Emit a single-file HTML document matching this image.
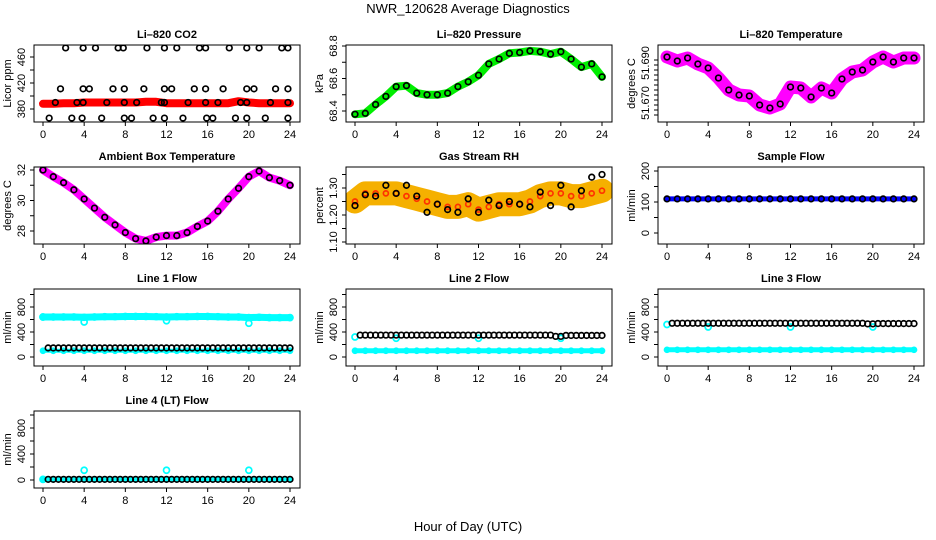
<!DOCTYPE html>
<html><head><meta charset="utf-8">
<style>
html,body{margin:0;padding:0;background:#fff;}
svg{display:block;font-family:"Liberation Sans",Arial,sans-serif;}
</style></head>
<body>
<svg id="chart" width="936" height="540" viewBox="0 0 936 540" xmlns="http://www.w3.org/2000/svg">
<text x="468" y="13" text-anchor="middle" font-size="13">NWR_120628  Average Diagnostics</text>
<text x="468" y="531" text-anchor="middle" font-size="13">Hour of Day (UTC)</text>
</svg>
<script>
// ---- data ----
const hours = [0,1,2,3,4,5,6,7,8,9,10,11,12,13,14,15,16,17,18,19,20,21,22,23,24];
const halfHours = [0.5,1,1.5,2,2.5,3,3.5,4,4.5,5,5.5,6,6.5,7,7.5,8,8.5,9,9.5,10,10.5,11,11.5,12,12.5,13,13.5,14,14.5,15,15.5,16,16.5,17,17.5,18,18.5,19,19.5,20,20.5,21,21.5,22,22.5,23,23.5,24];
const xTicks = [0,4,8,12,16,20,24];

const co2Red = [388,388,389,389,390,390,390,390,390,390,391,391,389,389,389,389,389,389,389,392,390,389,389,389,389];
const co2BlackT = [2.2,3.9,5.1,7.3,7.8,10.1,11.8,13,15.2,15.8,18.1,19.8,21,23.2,23.8, 1.7,3.9,4.5,6.8,7.9,9.8,11.8,12.5,14.7,15.8,17.5,19.8,20.5,22.6,23.8, 1.2,3.3,3.9,6.2,7.9,9.1,11.5,11.8,14.1,15.8,17,19.2,19.8,22.1,23.8, 0.6,2.8,3.8,5.7,7.9,8.6,10.7,11.8,13.6,15.9,16.5,18.7,19.8,21.6,23.8];
const co2BlackV = [474,474,474,474,474,474,474,474,474,474,474,474,474,474,474, 411,411,411,411,411,411,411,411,411,411,411,411,411,411,411, 390,390,390,390,390,390,390,390,390,390,390,390,390,390,390, 366,366,366,366,366,366,366,366,366,366,366,366,366,366,366];

const pressure = [68.38,68.386,68.44,68.49,68.55,68.556,68.51,68.50,68.50,68.51,68.55,68.58,68.62,68.69,68.72,68.755,68.76,68.77,68.765,68.75,68.765,68.72,68.67,68.69,68.61];
const licorTemp = [51.6965,51.6945,51.696,51.693,51.691,51.686,51.680,51.6775,51.677,51.6725,51.671,51.673,51.6815,51.681,51.6765,51.681,51.6785,51.6855,51.689,51.690,51.694,51.6965,51.694,51.696,51.696];
const ambientTemp = [32.0,31.56,31.17,30.7,30.1,29.5,28.9,28.4,27.9,27.5,27.35,27.6,27.7,27.7,27.9,28.3,28.65,29.3,30.1,30.8,31.56,31.93,31.5,31.3,31.0];
const rhMean = [1.25,1.28,1.28,1.28,1.28,1.27,1.26,1.25,1.24,1.23,1.23,1.24,1.22,1.23,1.24,1.24,1.24,1.25,1.27,1.28,1.28,1.27,1.27,1.28,1.29];
const rhBlack = [1.235,1.275,1.27,1.31,1.28,1.31,1.27,1.21,1.24,1.22,1.21,1.26,1.21,1.255,1.235,1.25,1.24,1.23,1.285,1.235,1.31,1.23,1.29,1.34,1.35];
const sampleBlue = [110,110,110,110,110,110,110,110,110,110,110,110,110,110,110,110,110,110,110,110,110,110,110,110,110];
const sampleBlack = [110,110,110,110,110,110,110,110,110,110,110,110,110,110,110,110,110,110,110,110,110,110,110,110,110];
const line1Cyan = [640,640,640,640,635,640,645,645,648,648,648,645,640,645,645,648,648,645,640,640,630,635,630,630,630];
const line1Low = [100,100,100,100,100,100,100,100,100,100,100,100,100,100,100,100,100,100,100,100,100,100,100,100,100];
const line1Black = [145,145,145,145,145,145,145,145,145,145,145,145,145,145,145,145,145,145,145,145,145,145,145,145,145];
const spikeT = [0,4,12,20];
const line1SpikeV = [640,560,580,540];
const line2Cyan = [100,100,100,100,100,100,100,100,100,100,100,100,100,100,100,100,100,100,100,100,100,100,100,100,100];
const line2SpikeV = [320,300,300,300];
const line2Black = [350,350,350,350,350,350,350,350,350,350,350,350,350,350,350,350,350,350,350,350,330,345,345,345,345];
const line3Cyan = [115,115,115,115,115,115,115,115,115,115,115,115,115,115,115,115,115,115,115,115,115,115,115,115,115];
const line3SpikeV = [520,480,480,480];
const line3Black = [540,540,540,540,540,540,540,540,540,540,540,540,540,540,540,540,540,540,540,540,530,535,535,535,535];
const line4Cyan = [10,10,10,10,10,10,10,10,10,10,10,10,10,10,10,10,10,10,10,10,10,10,10,10,10];
const line4SpikeV = [10,150,150,150];
const line4Black = [10,10,10,10,10,10,10,10,10,10,10,10,10,10,10,10,10,10,10,10,10,10,10,10,10];

// ---- drawing ----
const NS = "http://www.w3.org/2000/svg";
const svg = document.getElementById('chart');
const colLeft = [34,346,658], rowTop = [45,167,289,411], W = 266, H = 77;
function mk(tag, attrs, parent){
  const e = document.createElementNS(NS, tag);
  for (const k in attrs) e.setAttribute(k, attrs[k]);
  (parent||svg).appendChild(e);
  return e;
}
function lin(v1,p1,v2,p2){ return v => p1 + (v - v1) * (p2 - p1) / (v2 - v1); }

function panel(o){
  const L = colLeft[o.col], T = rowTop[o.row];
  const g = mk('g', {});
  
  
  const xs = t => L + 9 + t * 247 / 24;
  const ysRel = lin(o.v1, o.p1, o.v2, o.p2);
  const ys = v => T + ysRel(v);
  const t = mk('text', {x: L + W/2, y: T - 7, 'text-anchor':'middle', 'font-size':11, 'font-weight':'bold'}, g);
  t.textContent = o.title;
  
  
  const clip = 'clip' + o.col + o.row;
  const cp = mk('clipPath', {id: clip}, g);
  mk('rect', {x:L, y:T, width:W, height:H}, cp);
  const plot = mk('g', {'clip-path':'url(#'+clip+')'}, g);
  (o.series||[]).forEach(s => {
    const sg = mk('g', {}, plot);
    
    
    if (s.band) {
      const pts = s.t.map((tt,i) => xs(tt).toFixed(1) + ',' + ys(s.v[i]).toFixed(1)).join(' ');
      mk('polyline', {points: pts, fill:'none', stroke: s.color, 'stroke-width': s.band, 'stroke-linejoin':'round', 'stroke-linecap':'round'}, sg);
    }
    if (s.dots !== false) {
      s.t.forEach((tt,i) => {
        mk('circle', {cx: xs(tt), cy: ys(s.v[i]), r: s.r||2.8, fill:'none', stroke: s.dotColor||s.color, 'stroke-width': s.sw||1.7}, sg);
      });
    }
  });
  const box = mk('rect', {x:L, y:T, width:W, height:H, fill:'none', stroke:'#000', 'stroke-width':1}, g);
  
  
  const xa = mk('g', {}, g);
  
  
  mk('line', {x1: xs(0), x2: xs(24), y1: T+H, y2: T+H, stroke:'#000'}, xa);
  xTicks.forEach(v => {
    mk('line', {x1: xs(v), x2: xs(v), y1: T+H, y2: T+H+4, stroke:'#000'}, xa);
    const lt = mk('text', {x: xs(v), y: T+H+16, 'text-anchor':'middle', 'font-size':11}, xa);
    lt.textContent = v;
  });
  const ya = mk('g', {}, g);
  
  
  const tp = o.ticks.map(ys);
  mk('line', {x1: L, x2: L, y1: Math.min(...tp), y2: Math.max(...tp), stroke:'#000'}, ya);
  o.ticks.forEach(v => mk('line', {x1: L-4, x2: L, y1: ys(v), y2: ys(v), stroke:'#000'}, ya));
  o.labels.forEach((lab,i) => {
    const y = o.labelPos ? T + o.labelPos[i] : ys(o.labelVals[i]);
    const lt = mk('text', {x: L-9, y: y, 'text-anchor':'middle', 'font-size':11, transform:'rotate(-90 '+(L-9)+' '+y+')'}, ya);
    lt.textContent = lab;
  });
  const yt = mk('text', {x: L-23, y: T+H/2, 'text-anchor':'middle', 'font-size':11, transform:'rotate(-90 '+(L-23)+' '+(T+H/2)+')'}, g);
  yt.textContent = o.ylab;
  
  
}

panel({name:'co2-panel', col:0,row:0,title:'Li\u2013820 CO2', ylab:'Licor ppm', v1:460,p1:12,v2:380,p2:64,
  ticks:[380,400,420,440,460], labels:['380','420','460'], labelVals:[380,420,460],
  series:[{name:'co2-red-series', t:hours, v:co2Red, color:'#ff0000', band:8, r:2.5},
          {name:'co2-black-series', t:co2BlackT, v:co2BlackV, color:'#000'}]});
panel({name:'pressure-panel', col:1,row:0,title:'Li\u2013820 Pressure', ylab:'kPa', v1:68.8,p1:1,v2:68.4,p2:66,
  ticks:[68.4,68.5,68.6,68.7,68.8], labels:['68.4','68.6','68.8'], labelVals:[68.4,68.6,68.8],
  series:[{name:'pressure-green-series', t:hours, v:pressure, color:'#00ee00', band:8, r:2.5},
          {name:'pressure-black-series', t:hours, v:pressure, color:'#000'}]});
panel({name:'licor-temp-panel', col:2,row:0,title:'Li\u2013820 Temperature', ylab:'degrees C', v1:51.670,p1:65,v2:51.690,p2:25,
  ticks:[51.6675,51.670,51.6725,51.675,51.6775,51.680,51.6825,51.685,51.6875,51.690,51.6925,51.695], labels:['51.670','51.690'], labelPos:[58,18],
  series:[{name:'licor-temp-magenta-series', t:hours, v:licorTemp, color:'#ff00ff', band:13, r:3},
          {name:'licor-temp-black-series', t:hours, v:licorTemp, color:'#000'}]});
panel({name:'ambient-temp-panel', col:0,row:1,title:'Ambient Box Temperature', ylab:'degrees C', v1:32,p1:3,v2:28,p2:64,
  ticks:[28,29,30,31,32], labels:['28','30','32'], labelVals:[28,30,32],
  series:[{name:'ambient-magenta-series', t:hours, v:ambientTemp, color:'#ff00ff', band:8, r:2.5},
          {name:'ambient-black-series', t:hours, v:ambientTemp, color:'#000'}]});
panel({name:'rh-panel', col:1,row:1,title:'Gas Stream RH', ylab:'percent', v1:1.30,p1:21,v2:1.10,p2:75,
  ticks:[1.10,1.15,1.20,1.25,1.30,1.35], labels:['1.10','1.20','1.30'], labelVals:[1.10,1.20,1.30],
  series:[{name:'rh-orange-series', t:hours, v:rhMean, color:'#f5b000', dotColor:'#ff3300', band:24, r:2.5},
          {name:'rh-black-series', t:hours, v:rhBlack, color:'#000'}]});
panel({name:'sample-flow-panel', col:2,row:1,title:'Sample Flow', ylab:'ml/min', v1:200,p1:4,v2:0,p2:66,
  ticks:[0,50,100,150,200], labels:['0','100','200'], labelVals:[0,100,200],
  series:[{name:'sample-blue-series', t:hours, v:sampleBlue, color:'#0000ff', band:5, r:2.5},
          {name:'sample-black-series', t:hours, v:sampleBlack, color:'#000'}]});
const flowTicks = [0,200,400,600,800,1000], flowLabels = ['0','400','800'], flowLabelVals = [0,400,800];
panel({name:'line1-flow-panel', col:0,row:2,title:'Line 1 Flow', ylab:'ml/min', v1:0,p1:68,v2:800,p2:18,
  ticks:flowTicks, labels:flowLabels, labelVals:flowLabelVals,
  series:[{name:'line1-cyan-series', t:hours, v:line1Cyan, color:'#00ffff', band:7, r:3},
          {name:'line1-cyan-spikes', t:spikeT, v:line1SpikeV, color:'#00ffff', r:3},
          {name:'line1-cyan-low-series', t:hours, v:line1Low, color:'#00ffff', band:4, r:2.5},
          {name:'line1-black-series', t:halfHours, v:halfHours.map(h=>line1Black[Math.min(24,Math.round(h))]), color:'#000'}]});
panel({name:'line2-flow-panel', col:1,row:2,title:'Line 2 Flow', ylab:'ml/min', v1:0,p1:68,v2:800,p2:18,
  ticks:flowTicks, labels:flowLabels, labelVals:flowLabelVals,
  series:[{name:'line2-cyan-series', t:hours, v:line2Cyan, color:'#00ffff', band:5, r:2.5},
          {name:'line2-cyan-spikes', t:spikeT, v:line2SpikeV, color:'#00ffff', r:3},
          {name:'line2-black-series', t:halfHours, v:halfHours.map(h=>line2Black[Math.min(24,Math.round(h))]), color:'#000'}]});
panel({name:'line3-flow-panel', col:2,row:2,title:'Line 3 Flow', ylab:'ml/min', v1:0,p1:68,v2:800,p2:18,
  ticks:flowTicks, labels:flowLabels, labelVals:flowLabelVals,
  series:[{name:'line3-cyan-series', t:hours, v:line3Cyan, color:'#00ffff', band:5, r:2.5},
          {name:'line3-cyan-spikes', t:spikeT, v:line3SpikeV, color:'#00ffff', r:3},
          {name:'line3-black-series', t:halfHours, v:halfHours.map(h=>line3Black[Math.min(24,Math.round(h))]), color:'#000'}]});
panel({name:'line4-flow-panel', col:0,row:3,title:'Line 4 (LT) Flow', ylab:'ml/min', v1:0,p1:69,v2:800,p2:17,
  ticks:flowTicks, labels:flowLabels, labelVals:flowLabelVals,
  series:[{name:'line4-cyan-series', t:hours, v:line4Cyan, color:'#00ffff', band:4, r:2.5},
          {name:'line4-cyan-spikes', t:spikeT, v:line4SpikeV, color:'#00ffff', r:3},
          {name:'line4-black-series', t:halfHours, v:halfHours.map(h=>line4Black[Math.min(24,Math.round(h))]), color:'#000'}]});
</script>
</body></html>
